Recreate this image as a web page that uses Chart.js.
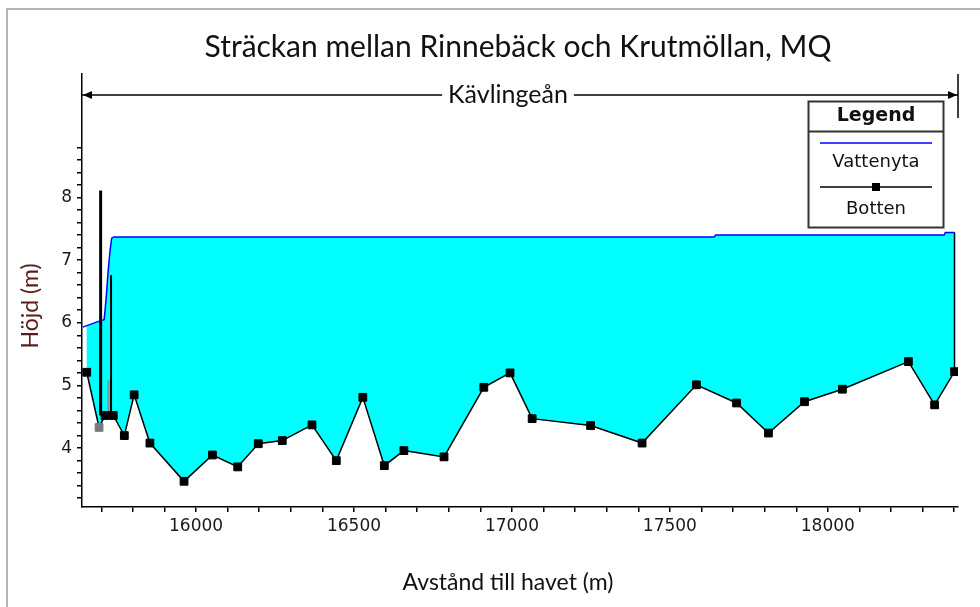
<!DOCTYPE html>
<html>
<head>
<meta charset="utf-8">
<title>Kävlingeån</title>
<script src="https://cdn.jsdelivr.net/npm/chart.js@4.4.1/dist/chart.umd.min.js"></script>
<style>
  html, body { margin: 0; padding: 0; background: #fff; }
  #wrap { position: relative; width: 980px; height: 607px; overflow: hidden; }
  #frame { position: absolute; left: 6px; top: 8px; width: 990px; height: 620px;
           border-left: 2px solid #b4b4b4; border-top: 2px solid #b4b4b4; }
  #profileChart { position: absolute; left: 0; top: 0; }
</style>
</head>
<body>
<div id="wrap">
  <div id="frame"></div>
  <canvas id="profileChart" width="980" height="607"></canvas>
</div>
<script>
// bottenprofil: avstånd till havet (m) och höjd (m)
const bottenDist = [15654, 15693, 15712, 15738, 15773, 15804, 15854, 15962, 16052, 16132,
                    16197, 16273, 16367, 16444, 16528, 16596, 16658, 16785, 16911, 16994,
                    17064, 17249, 17412, 17584, 17711, 17812, 17926, 18046, 18255, 18338,
                    18401, 18401];
const bottenHojd = [5.21, 4.33, 4.52, 4.52, 4.20, 4.85, 4.08, 3.47, 3.89, 3.70,
                    4.07, 4.12, 4.37, 3.80, 4.81, 3.72, 3.96, 3.86, 4.97, 5.20,
                    4.47, 4.36, 4.08, 5.01, 4.72, 4.24, 4.74, 4.94, 5.38, 4.69,
                    5.22, 7.44];

// vattenyta vid MQ
const vattenDist = [15641, 15696, 15709, 15712, 15717, 15722, 15728, 15733, 15740,
                    17640, 17645, 18368, 18372, 18401];
const vattenHojd = [5.93, 6.03, 6.05, 6.20, 6.50, 6.84, 7.16, 7.35, 7.37,
                    7.37, 7.40, 7.40, 7.44, 7.44];

// dammen uppströms (vertikala linjer)
const damDist = [15698, 15723, 15731];
const damFot  = [4.52, 4.52, 4.52];
const damTopp = [8.11, 5.08, 6.76];
const damFarg = ['#000000', '#8a8a8a', '#000000'];
const damBredd = [3, 2, 2];

// axlar
const xTickValues = [15700, 15800, 15900, 16000, 16100, 16200, 16300, 16400, 16500, 16600,
                     16700, 16800, 16900, 17000, 17100, 17200, 17300, 17400, 17500, 17600,
                     17700, 17800, 17900, 18000, 18100, 18200, 18300, 18400];
const xTickLabels = ['16000', '16500', '17000', '17500', '18000'];
const yTickValues = [3.2, 3.4, 3.6, 3.8, 4.0, 4.2, 4.4, 4.6, 4.8, 5.0, 5.2, 5.4, 5.6, 5.8,
                     6.0, 6.2, 6.4, 6.6, 6.8, 7.0, 7.2, 7.4, 7.6, 7.8, 8.0, 8.2, 8.4, 8.6, 8.8];
const yTickLabels = ['4', '5', '6', '7', '8'];

const titleText = 'Sträckan mellan Rinnebäck och Krutmöllan, MQ';
const reachText = 'Kävlingeån';
const xTitle = 'Avstånd till havet (m)';
const yTitle = 'Höjd (m)';

const toPoints = (xs, ys) => xs.map((x, i) => ({ x: x, y: ys[i] }));

const damSets = damDist.map((d, i) => ({
  label: 'damm' + i,
  data: [{ x: d, y: damFot[i] }, { x: d, y: damTopp[i] }],
  borderColor: damFarg[i],
  borderWidth: damBredd[i],
  pointRadius: 0,
  fill: false
}));

const datasets = [
  {
    label: 'Botten',
    data: toPoints(bottenDist, bottenHojd),
    borderColor: '#000',
    borderWidth: 1.5,
    pointStyle: 'rect',
    pointRadius: bottenDist.map((d, i) => i === bottenDist.length - 1 ? 0 : 5.5),
    pointBackgroundColor: bottenDist.map((d, i) => i === 1 ? '#7a7a7a' : '#000'),
    pointBorderColor: bottenDist.map((d, i) => i === 1 ? '#7a7a7a' : '#000'),
    pointBorderWidth: 1,
    fill: false
  },
  ...damSets,
  {
    label: 'Vattenyta',
    data: toPoints(vattenDist, vattenHojd),
    borderColor: '#0000ff',
    borderWidth: 1.5,
    pointRadius: 0,
    backgroundColor: '#00ffff',
    fill: { target: 0 }
  }
];

// titel, Kävlingeån-pil, legend och axeltitlar
const annotations = {
  id: 'annotations',
  afterDraw(chart) {
    const ctx = chart.ctx;
    const area = chart.chartArea;
    ctx.save();
    ctx.fillStyle = '#111';
    ctx.textAlign = 'center';
    ctx.textBaseline = 'middle';

    ctx.font = '30px Lato';
    ctx.fillText(titleText, 518, 47);

    // pil över hela sträckan
    const ay = 95;
    ctx.font = '25px Lato';
    const tw = ctx.measureText(reachText).width;
    const cx = 508;
    ctx.fillText(reachText, cx, ay);
    ctx.strokeStyle = '#000';
    ctx.lineWidth = 1.5;
    ctx.beginPath();
    ctx.moveTo(area.left, ay); ctx.lineTo(cx - tw / 2 - 6, ay);
    ctx.moveTo(cx + tw / 2 + 6, ay); ctx.lineTo(area.right, ay);
    ctx.moveTo(area.right, 74); ctx.lineTo(area.right, 118);
    ctx.stroke();
    ctx.fillStyle = '#000';
    ctx.beginPath();
    ctx.moveTo(area.left + 1, ay); ctx.lineTo(area.left + 10, ay - 4); ctx.lineTo(area.left + 10, ay + 4);
    ctx.closePath(); ctx.fill();
    ctx.beginPath();
    ctx.moveTo(area.right - 1, ay); ctx.lineTo(area.right - 10, ay - 4); ctx.lineTo(area.right - 10, ay + 4);
    ctx.closePath(); ctx.fill();

    // legend
    const lx = 808.5, ly = 101.5, lw = 135, lh = 126;
    ctx.strokeStyle = '#333';
    ctx.lineWidth = 2;
    ctx.strokeRect(lx, ly, lw, lh);
    ctx.beginPath();
    ctx.moveTo(lx, 131.5); ctx.lineTo(lx + lw, 131.5);
    ctx.stroke();
    ctx.fillStyle = '#111';
    ctx.font = 'bold 19px "DejaVu Sans"';
    ctx.fillText('Legend', lx + lw / 2, 116);
    ctx.strokeStyle = '#0000ff';
    ctx.lineWidth = 1.5;
    ctx.beginPath(); ctx.moveTo(820, 143); ctx.lineTo(932, 143); ctx.stroke();
    ctx.font = '18px "DejaVu Sans"';
    ctx.fillText('Vattenyta', lx + lw / 2, 162);
    ctx.strokeStyle = '#000';
    ctx.beginPath(); ctx.moveTo(820, 187); ctx.lineTo(932, 187); ctx.stroke();
    ctx.fillStyle = '#000';
    ctx.fillRect(872, 183, 8, 8);
    ctx.fillStyle = '#111';
    ctx.fillText('Botten', lx + lw / 2, 209);

    // axeltitlar
    ctx.font = '23px Lato';
    ctx.fillText(xTitle, 508, 583);
    ctx.save();
    ctx.translate(31, 306);
    ctx.rotate(-Math.PI / 2);
    ctx.fillStyle = '#5a1c1c';
    ctx.fillText(yTitle, 0, 0);
    ctx.restore();
    ctx.restore();
  }
};

const tickFont = { family: '"DejaVu Sans"', size: 17 };

new Chart(document.getElementById('profileChart').getContext('2d'), {
  type: 'line',
  data: { datasets: datasets },
  options: {
    responsive: false,
    animation: false,
    layout: { padding: { top: 74, right: 22, left: 0, bottom: 0 } },
    plugins: {
      legend: { display: false },
      title: { display: false },
      tooltip: { enabled: false },
      filler: { propagate: false }
    },
    elements: { line: { tension: 0 } },
    scales: {
      x: {
        type: 'linear',
        min: 15639,
        max: 18412,
        afterBuildTicks: s => { s.ticks = xTickValues.map(v => ({ value: v })); },
        afterFit: s => { s.height = 100; },
        ticks: {
          autoSkip: false,
          maxRotation: 0,
          padding: 4,
          color: '#1a1a1a',
          font: tickFont,
          callback: v => xTickLabels.includes(String(v)) ? String(v) : ''
        },
        grid: { drawOnChartArea: false, drawTicks: true, tickLength: 5, color: '#000', lineWidth: 1.5 },
        border: { display: true, color: '#000', width: 1.5 }
      },
      y: {
        type: 'linear',
        min: 3.06,
        max: 9.97,
        afterBuildTicks: s => { s.ticks = yTickValues.map(v => ({ value: v })); },
        afterFit: s => { s.width = 82; },
        ticks: {
          autoSkip: false,
          padding: 5,
          color: '#1a1a1a',
          font: tickFont,
          callback: v => {
            const t = String(Math.round(v * 10) / 10);
            return yTickLabels.includes(t) ? t : '';
          }
        },
        grid: { drawOnChartArea: false, drawTicks: true, tickLength: 5, color: '#000', lineWidth: 1.5 },
        border: { display: true, color: '#000', width: 1.5 }
      }
    }
  },
  plugins: [annotations]
});
</script>
</body>
</html>
